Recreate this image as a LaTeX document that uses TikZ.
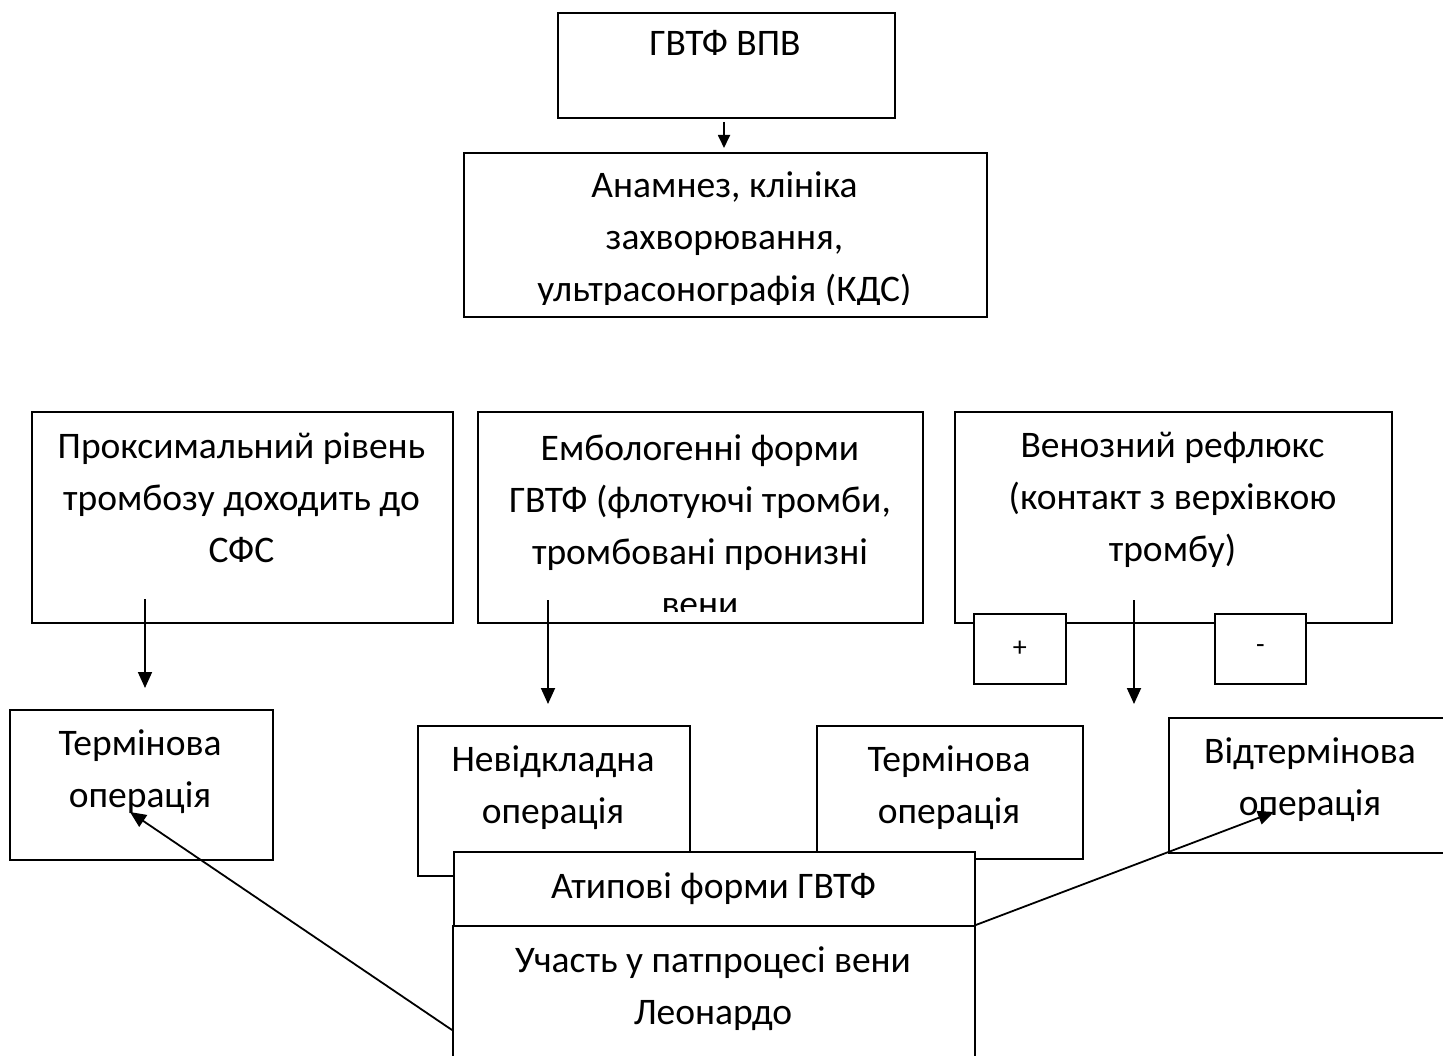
\documentclass[tikz,border=0pt]{standalone}
\usepackage{fontspec}
\setmainfont{Carlito}
\usetikzlibrary{arrows.meta}
\begin{document}
\begin{tikzpicture}[x=1pt,y=-1pt,
  box/.style={draw, line width=1.8pt, fill=white, inner sep=0pt, anchor=north west},
  txt/.style={align=center, font=\fontsize{37.5}{52}\selectfont, inner sep=0pt, anchor=base},
  small/.style={font=\fontsize{28}{30}\selectfont, inner sep=0pt},
  arr/.style={line width=1.8pt, -{Triangle[length=16pt,width=14pt]}},
  sarr/.style={line width=1.8pt, -{Triangle[length=13pt,width=12pt]}},
]
\useasboundingbox (0,0) rectangle (1443,1056);
\clip (0,0) rectangle (1443,1056);

% top
\node[box, minimum width=337pt, minimum height=105pt] (top) at (557,12) {};
\node[txt] (ttop) at (725,56) {ГВТФ ВПВ};
\node[box, minimum width=523pt, minimum height=164pt] (anam) at (463,152) {};
\begin{scope}
\clip (463,152) rectangle (986,305);
\node[txt] (tanam) at (724.5,302) {Анамнез, клініка\\захворювання,\\ультрасонографія (КДС)};
\end{scope}
\coordinate (s0) at (724,122);
\coordinate (e0) at (724,148);
\draw[sarr] (s0) -- (e0);

% row of three
\node[box, minimum width=421pt, minimum height=211pt] (A) at (31,411) {};
\node[txt] (tA) at (241.5,562) {Проксимальний рівень\\тромбозу доходить до\\СФС};
\node[box, minimum width=445pt, minimum height=211pt] (B) at (477,411) {};
\begin{scope}
\clip (477,411) rectangle (922,611);
\node[txt] (tB) at (700,616) {Емболо{}генні форми\\ГВТФ (флотуючі тромби,\\тромбовані пронизні\\вени};
\end{scope}
\node[box, minimum width=437pt, minimum height=211pt] (C) at (954,411) {};
\node[txt] (tC) at (1172.5,561) {Венозний рефлюкс\\(контакт з верхівкою\\тромбу)};

\coordinate (sA) at (145,599);
\coordinate (eA) at (145,688);
\draw[arr] (sA) -- (eA);
\coordinate (sB) at (548,600);
\coordinate (eB) at (548,704);
\draw[arr] (sB) -- (eB);
\coordinate (sC) at (1134,600);
\coordinate (eC) at (1134,704);
\draw[arr] (sC) -- (eC);

\node[box, minimum width=92pt, minimum height=70pt] (plus) at (973,613) {};
\node[small] (tplus) at (plus.center) {+};
\node[box, minimum width=91pt, minimum height=70pt] (minus) at (1214,613) {};
\node[small] (tminus) at (minus.center) {-};

% operations
\node[box, minimum width=263pt, minimum height=150pt] (termL) at (9,709) {};
\node[txt] (ttermL) at (140,807) {Термінова\\операція};
\node[box, minimum width=272pt, minimum height=150pt] (nevid) at (417,725) {};
\node[txt] (tnevid) at (553,823) {Невідкладна\\операція};
\node[box, minimum width=266pt, minimum height=133pt] (termM) at (816,725) {};
\node[txt] (ttermM) at (949,823) {Термінова\\операція};
\node[box, minimum width=284pt, minimum height=135pt] (vidt) at (1168,717) {};
\node[txt] (tvidt) at (1310,815) {Відтермінова\\операція};

% atypical
\node[box, minimum width=521pt, minimum height=74pt] (D) at (453,851) {};
\node[txt] (tD) at (713.5,898) {Атипові форми ГВТФ};
\node[box, minimum width=522pt, minimum height=180pt] (E) at (452,925) {};
\node[txt] (tE) at (713,1024) {Участь у патпроцесі вени\\Леонардо};

\coordinate (sL) at (452,1030);
\coordinate (eL) at (130,812);
\draw[arr] (sL) -- (eL);
\coordinate (eR) at (1274,812);
\draw[arr] (E.north east) -- (eR);
\end{tikzpicture}
\end{document}
